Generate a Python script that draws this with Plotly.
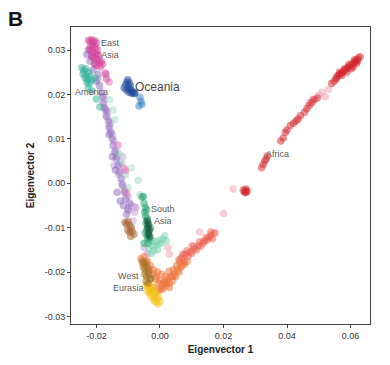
import plotly.graph_objects as go

# ---------------- data (Eigenvector 1, Eigenvector 2) ----------------
east_asia_x = [-0.0225,-0.0220,-0.0215,-0.0210,-0.0205,-0.0200,-0.0218,-0.0212,-0.0207,-0.0202,-0.0197,-0.0222,-0.0216,-0.0210,-0.0204,-0.0198,-0.0193,-0.0214,-0.0208,-0.0200,-0.0195,-0.0190,-0.0205,-0.0198,-0.0188,-0.0185,-0.0180,-0.0172,-0.0168]
east_asia_y = [0.0322,0.0320,0.0323,0.0318,0.0321,0.0316,0.0310,0.0312,0.0308,0.0305,0.0300,0.0302,0.0298,0.0295,0.0292,0.0290,0.0288,0.0286,0.0282,0.0280,0.0278,0.0272,0.0268,0.0265,0.0262,0.0275,0.0268,0.0248,0.0235]

america_x = [-0.0246,-0.0240,-0.0234,-0.0242,-0.0232,-0.0224,-0.0236,-0.0228,-0.0220,-0.0230,-0.0222,-0.0216,-0.0226,-0.0214,-0.0205,-0.0189,-0.0200]
america_y = [0.0260,0.0254,0.0258,0.0246,0.0245,0.0250,0.0238,0.0234,0.0240,0.0228,0.0224,0.0232,0.0215,0.0208,0.0237,0.0172,0.0190]

purple_x = [-0.0230,-0.0225,-0.0215,-0.0220,-0.0205,-0.0210,-0.0195,-0.0200,-0.0190,-0.0185,-0.0180,-0.0178,-0.0170,-0.0168,-0.0162,-0.0160,-0.0155,-0.0150,-0.0148,-0.0142,-0.0138,-0.0132,-0.0128,-0.0122,-0.0118,-0.0112,-0.0108,-0.0115,-0.0100,-0.0175,-0.0160,-0.0150,-0.0140,-0.0125,-0.0135,-0.0105,-0.0095]
purple_y = [0.0290,0.0300,0.0285,0.0275,0.0270,0.0255,0.0245,0.0230,0.0220,0.0205,0.0195,0.0180,0.0165,0.0150,0.0140,0.0125,0.0115,0.0100,0.0085,0.0070,0.0055,0.0040,0.0025,0.0010,-0.0005,-0.0020,-0.0035,-0.0050,-0.0060,0.0170,0.0110,0.0060,0.0030,-0.0040,-0.0020,-0.0070,-0.0045]

lavender_x = [-0.0195,-0.0175,-0.0165,-0.0160,-0.0150,-0.0145,-0.0140,-0.0135,-0.0125,-0.0130,-0.0120,-0.0110,-0.0100,-0.0090,-0.0080,-0.0075,-0.0085,-0.0050,-0.0040,-0.0155,-0.0118,-0.0101,-0.0079,-0.0170,-0.0145]
lavender_y = [0.0235,0.0190,0.0160,0.0130,0.0110,0.0095,0.0075,0.0060,0.0045,0.0020,0.0000,-0.0015,-0.0030,-0.0050,-0.0065,-0.0055,-0.0085,-0.0145,-0.0160,0.0135,0.0060,-0.0056,-0.0053,0.0155,0.0040]

magenta_cline_x = [-0.0132,-0.0113,-0.0108,-0.0105,-0.0170,-0.0160]
magenta_cline_y = [0.0086,0.0034,0.0028,-0.0022,0.0245,0.0228]

mint_cline_x = [-0.0158,-0.0142,-0.0128,-0.0108,-0.0063,-0.0090,-0.0120,-0.0148,-0.0100,-0.0069,-0.0132]
mint_cline_y = [0.0188,0.0143,0.0064,0.0019,-0.0026,0.0035,0.0045,0.0165,-0.0010,0.0007,0.0070]

oceania_x = [-0.0113,-0.0108,-0.0104,-0.0101,-0.0097,-0.0093,-0.0106,-0.0100,-0.0094,-0.0088,-0.0084,-0.0098,-0.0090,-0.0082,-0.0079]
oceania_y = [0.0215,0.0222,0.0228,0.0233,0.0226,0.0220,0.0210,0.0214,0.0212,0.0208,0.0205,0.0205,0.0203,0.0202,0.0203]

oceania_lt_x = [-0.0063,-0.0060,-0.0066,-0.0057]
oceania_lt_y = [0.0194,0.0185,0.0174,0.0178]

south_asia_x = [-0.0057,-0.0052,-0.0050,-0.0046,-0.0048,-0.0042,-0.0045,-0.0040,-0.0044,-0.0038,-0.0042,-0.0036,-0.0040,-0.0034,-0.0046,-0.0030,-0.0050,-0.0038]
south_asia_y = [-0.0031,-0.0030,-0.0045,-0.0055,-0.0065,-0.0060,-0.0075,-0.0080,-0.0090,-0.0095,-0.0105,-0.0110,-0.0120,-0.0125,-0.0112,-0.0100,-0.0135,-0.0135]

dark_green_x = [-0.0040,-0.0036,-0.0038,-0.0033,-0.0036,-0.0032]
dark_green_y = [-0.0085,-0.0092,-0.0100,-0.0105,-0.0115,-0.0120]

mint_x = [-0.0040,-0.0030,-0.0020,-0.0010,0.0000,0.0010,-0.0025,-0.0015,-0.0005,0.0005,-0.0035,-0.0020,-0.0008,0.0015,0.0020,-0.0028]
mint_y = [-0.0125,-0.0128,-0.0130,-0.0132,-0.0128,-0.0125,-0.0140,-0.0142,-0.0138,-0.0135,-0.0148,-0.0152,-0.0150,-0.0118,-0.0130,-0.0158]

brown_x = [-0.0110,-0.0105,-0.0100,-0.0095,-0.0090,-0.0102,-0.0096,-0.0088,-0.0082,-0.0092]
brown_y = [-0.0088,-0.0092,-0.0086,-0.0095,-0.0100,-0.0105,-0.0110,-0.0108,-0.0115,-0.0120]

west_eurasia_x = [-0.0055,-0.0050,-0.0045,-0.0052,-0.0047,-0.0040,-0.0048,-0.0042,-0.0036,-0.0044,-0.0038,-0.0030,-0.0035,-0.0030]
west_eurasia_y = [-0.0175,-0.0180,-0.0178,-0.0190,-0.0195,-0.0190,-0.0205,-0.0210,-0.0200,-0.0220,-0.0225,-0.0215,-0.0205,-0.0215]

yellow_x = [-0.0045,-0.0040,-0.0035,-0.0030,-0.0025,-0.0020,-0.0038,-0.0032,-0.0026,-0.0020,-0.0014,-0.0028,-0.0022,-0.0016,-0.0010,-0.0004,-0.0018,-0.0012,-0.0006,0.0000]
yellow_y = [-0.0230,-0.0235,-0.0228,-0.0238,-0.0232,-0.0240,-0.0245,-0.0248,-0.0244,-0.0250,-0.0246,-0.0255,-0.0258,-0.0254,-0.0260,-0.0256,-0.0265,-0.0268,-0.0272,-0.0266]

orange_x = [-0.0060,-0.0055,-0.0050,-0.0045,-0.0040,-0.0035,-0.0030,-0.0025,-0.0020,-0.0015,-0.0010,-0.0005,0.0000,0.0005,0.0010,0.0015,0.0020,0.0025,0.0030,0.0035,0.0040,0.0045,0.0050,0.0055,0.0060,0.0065,0.0070,-0.0030,-0.0020,-0.0010,0.0000,0.0010,0.0020,0.0030,0.0040,-0.0008,0.0005,0.0018,0.0028,0.0042,0.0052,0.0062,0.0078,0.0085]
orange_y = [-0.0170,-0.0180,-0.0165,-0.0185,-0.0175,-0.0195,-0.0185,-0.0205,-0.0195,-0.0215,-0.0210,-0.0225,-0.0220,-0.0235,-0.0225,-0.0220,-0.0230,-0.0215,-0.0225,-0.0210,-0.0220,-0.0205,-0.0210,-0.0195,-0.0200,-0.0190,-0.0185,-0.0240,-0.0235,-0.0245,-0.0240,-0.0238,-0.0225,-0.0235,-0.0210,-0.0200,-0.0205,-0.0210,-0.0198,-0.0195,-0.0185,-0.0178,-0.0182,-0.0176]

salmon_x = [0.0060,0.0068,0.0075,0.0080,0.0088,0.0095,0.0100,0.0108,0.0115,0.0120,0.0128,0.0135,0.0140,0.0148,0.0155,0.0160,0.0165,0.0170,0.0085,0.0105,0.0125,0.0145,0.0160,0.0072]
salmon_y = [-0.0172,-0.0168,-0.0175,-0.0160,-0.0165,-0.0155,-0.0158,-0.0148,-0.0150,-0.0140,-0.0142,-0.0135,-0.0130,-0.0128,-0.0122,-0.0118,-0.0125,-0.0112,-0.0152,-0.0142,-0.0132,-0.0122,-0.0110,-0.0160]

pink_x = [0.0125,0.0175,0.0200,0.0230,0.0100,0.0500,0.0510,0.0520,0.0480,0.0530,0.0470,0.0025,0.0030]
pink_y = [-0.0110,-0.0112,-0.0068,-0.0013,-0.0140,0.0198,0.0205,0.0195,0.0190,0.0212,0.0182,-0.0145,-0.0160]

africa_x = [0.0262,0.0266,0.0270,0.0274,0.0268,0.0272,
            0.0320,0.0325,0.0330,0.0338,0.0335,0.0380,0.0388,0.0395,0.0400,0.0410,0.0420,0.0428,0.0435,0.0442,0.0455,0.0462,0.0470,0.0478,0.0485,0.0495,0.0540,0.0548,0.0555,
            0.0555,0.0560,0.0565,0.0570,0.0575,0.0580,0.0585,0.0590,0.0595,0.0600,0.0605,0.0610,0.0615,0.0620,0.0625,0.0630,0.0572,0.0588,0.0602,0.0618,0.0580,0.0595,0.0608,0.0622,0.0565,0.0612]
africa_y = [-0.0015,-0.0019,-0.0013,-0.0017,-0.0021,-0.0020,
            0.0035,0.0042,0.0050,0.0062,0.0055,0.0095,0.0102,0.0115,0.0120,0.0130,0.0135,0.0140,0.0145,0.0152,0.0160,0.0168,0.0175,0.0182,0.0188,0.0192,0.0225,0.0230,0.0235,
            0.0238,0.0242,0.0245,0.0248,0.0250,0.0254,0.0256,0.0260,0.0262,0.0265,0.0268,0.0272,0.0275,0.0278,0.0282,0.0285,0.0243,0.0250,0.0258,0.0270,0.0258,0.0268,0.0262,0.0275,0.0250,0.0278]

x_tickvals = [-0.02, 0.00, 0.02, 0.04, 0.06]
x_ticktext = ["-0.02", "0.00", "0.02", "0.04", "0.06"]
y_tickvals = [-0.03, -0.02, -0.01, 0.00, 0.01, 0.02, 0.03]
y_ticktext = ["-0.03", "-0.02", "-0.01", "0.00", "0.01", "0.02", "0.03"]

region_labels = ["East<br>Asia", "America", "Oceania", "Africa", "South<br>Asia", "West<br>Eurasia"]
label_x = [-0.0157, -0.0217, -0.0009, 0.0369, 0.0009, -0.0098]
label_y = [0.0302, 0.0206, 0.0217, 0.0066, -0.0072, -0.0223]

# ---------------- figure ----------------
groups = [
    (lavender_x, lavender_y, "#c6a0d8"),
    (mint_cline_x, mint_cline_y, "#a3dcc6"),
    (purple_x, purple_y, "#8b68bc"),
    (magenta_cline_x, magenta_cline_y, "#dd6fb3"),
    (america_x, america_y, "#2bb09c"),
    (east_asia_x, east_asia_y, "#d5449c"),
    (oceania_lt_x, oceania_lt_y, "#2f80c2"),
    (oceania_x, oceania_y, "#1d4a9a"),
    (pink_x, pink_y, "#f1a0ae"),
    (salmon_x, salmon_y, "#eb5c4c"),
    (orange_x, orange_y, "#ee7034"),
    (yellow_x, yellow_y, "#f3c41c"),
    (west_eurasia_x, west_eurasia_y, "#a8701f"),
    (brown_x, brown_y, "#a3612e"),
    (mint_x, mint_y, "#7ad4b2"),
    (south_asia_x, south_asia_y, "#21a06d"),
    (dark_green_x, dark_green_y, "#0d4c33"),
    (africa_x, africa_y, "#d4252b"),
]

FONT = "Liberation Sans, Arial, sans-serif"

fig = go.Figure()
for gx, gy, col in groups:
    fig.add_trace(go.Scatter(x=gx, y=gy, mode="markers",
                             marker=dict(size=7.5, color=col, opacity=0.5, line=dict(width=0)),
                             showlegend=False, hoverinfo="skip"))

for txt, lx, ly in zip(region_labels, label_x, label_y):
    big = txt == "Oceania"
    fig.add_annotation(x=lx, y=ly, text=txt, showarrow=False,
                       font=dict(family=FONT, size=12 if big else 9,
                                 color="#444444" if big else "#5a5a5a"))

fig.add_annotation(x=0.0, y=1.0, xref="paper", yref="paper", xanchor="left", yanchor="top",
                   text="<b>B</b>", showarrow=False, xshift=-65, yshift=22,
                   font=dict(family=FONT, size=21, color="#111111"))

axis_common = dict(showgrid=False, zeroline=False, showline=True, mirror=True,
                   linecolor="#444444", linewidth=1, ticks="outside", ticklen=3,
                   tickcolor="#444444",
                   tickfont=dict(family=FONT, size=9, color="#333333"))

fig.update_layout(
    width=382, height=357,
    margin=dict(l=63, r=20, t=19, b=41),
    plot_bgcolor="white", paper_bgcolor="white",
    xaxis=dict(range=[-0.028, 0.0661], tickvals=x_tickvals, ticktext=x_ticktext,
               title=dict(text="<b>Eigenvector 1</b>", standoff=6,
                          font=dict(family=FONT, size=10, color="#222222")),
               **axis_common),
    yaxis=dict(range=[-0.0317, 0.0352], tickvals=y_tickvals, ticktext=y_ticktext,
               title=dict(text="<b>Eigenvector 2</b>", standoff=8,
                          font=dict(family=FONT, size=10, color="#222222")),
               **axis_common),
)

fig.write_html("out.html")
